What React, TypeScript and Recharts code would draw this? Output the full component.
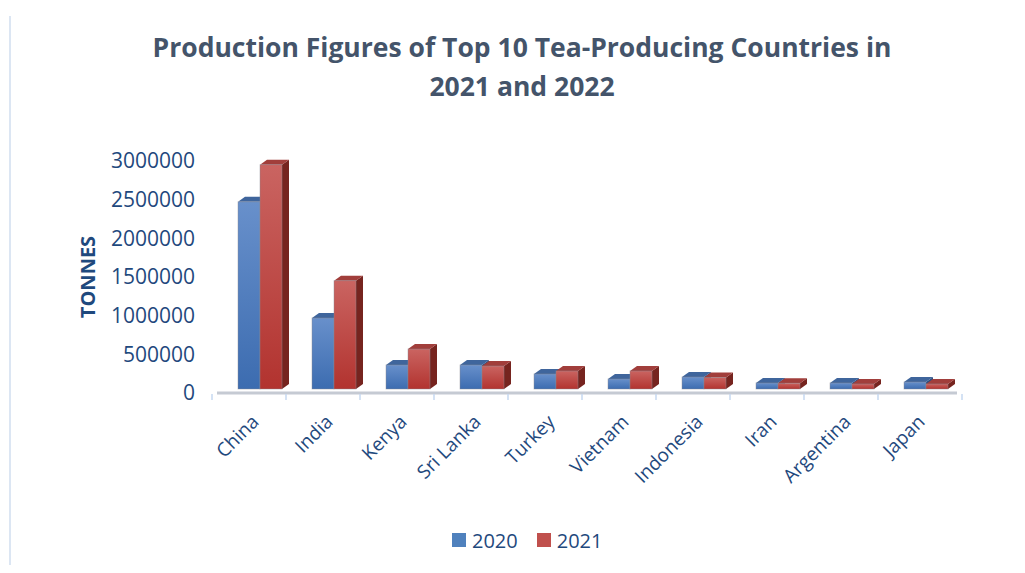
import React from "react";
import { BarChart, Bar, XAxis, YAxis } from "recharts";

// values (tonnes)
const categories = [
  "China",
  "India",
  "Kenya",
  "Sri Lanka",
  "Turkey",
  "Vietnam",
  "Indonesia",
  "Iran",
  "Argentina",
  "Japan",
];
const values2020 = [2420000, 918000, 310000, 310000, 194000, 129000, 155000, 78000, 78000, 90000];
const values2021 = [2900000, 1400000, 517000, 297000, 233000, 233000, 150000, 75000, 65000, 65000];
const yTicks = [0, 500000, 1000000, 1500000, 2000000, 2500000, 3000000];
const seriesNames = ["2020", "2021"];

const data = categories.map((name, i) => ({
  name,
  y2020: values2020[i],
  y2021: values2021[i],
}));

const W = 1009;
const H = 557;
const X_AXIS_H = 30;
const MARGIN = { top: 153, right: 60, bottom: 172 - X_AXIS_H, left: 109 };
const BAND = (W - MARGIN.left - MARGIN.right) / categories.length;
const FONT = "'Open Sans', sans-serif";
const LABEL = "#1f497d";

const BLUE = { front: "url(#gBlue)", top: "#3f659c", side: "#2d4f80", key: "#4f81bd" };
const RED = { front: "url(#gRed)", top: "#a13e3b", side: "#76241f", key: "#c0504d" };

// fake 3d box: front face + top + right side
const Box3D = (props: any) => {
  const { x, y, width, height, colors } = props;
  if (height == null || width == null) return null;
  const dx = 7;
  const dy = 5;
  const fx = x + 6;
  const fy = y - 4;
  return (
    <g>
      <polygon
        points={`${fx + width},${fy} ${fx + width + dx},${fy - dy} ${fx + width + dx},${fy + height - dy} ${fx + width},${fy + height}`}
        fill={colors.side}
      />
      <polygon
        points={`${fx},${fy} ${fx + width},${fy} ${fx + width + dx},${fy - dy} ${fx + dx},${fy - dy}`}
        fill={colors.top}
      />
      <rect
        x={fx}
        y={fy}
        width={width}
        height={height}
        fill={colors.front}
        stroke="rgba(140,140,150,0.55)"
        strokeWidth={0.8}
      />
    </g>
  );
};

const CategoryTick = (props: any) => {
  const { x, y, payload, index } = props;
  const lx = x + 6;
  const ly = y + 30;
  return (
    <g>
      <line x1={x - BAND / 2} x2={x - BAND / 2} y1={y + 1} y2={y + 7} stroke="#c6d9f1" strokeWidth={1.5} />
      {index === categories.length - 1 && (
        <line x1={x + BAND / 2} x2={x + BAND / 2} y1={y + 1} y2={y + 7} stroke="#c6d9f1" strokeWidth={1.5} />
      )}
      <text
        x={lx}
        y={ly}
        transform={`rotate(-45, ${lx}, ${ly})`}
        textAnchor="end"
        fill={LABEL}
        fontSize={19}
        fontFamily={FONT}
      >
        {payload.value}
      </text>
    </g>
  );
};

const YLabel = (props: any) => {
  const { viewBox } = props;
  const cx = viewBox.x - 30;
  const cy = viewBox.y + viewBox.height / 2;
  return (
    <text
      x={cx}
      y={cy}
      transform={`rotate(-90, ${cx}, ${cy})`}
      textAnchor="middle"
      dominantBaseline="central"
      fill={LABEL}
      fontSize={20}
      fontWeight="bold"
      fontFamily={FONT}
    >
      TONNES
    </text>
  );
};

const LegendItem = ({ color, label }: { color: string; label: string }) => (
  <div style={{ display: "flex", alignItems: "center", marginRight: 19 }}>
    <div style={{ width: 14, height: 14, background: color, marginRight: 6 }} />
    <span style={{ color: LABEL, fontSize: 20, fontFamily: FONT }}>{label}</span>
  </div>
);

const App: React.FC = () => {
  return (
    <div style={{ position: "relative", width: W, height: H, background: "#fff" }}>
      <div
        style={{
          position: "absolute",
          left: 1,
          top: 8,
          width: 2,
          height: 565,
          background: "#dce6f3",
        }}
      />
      <div
        style={{
          position: "absolute",
          left: 0,
          top: 20,
          width: 1028,
          textAlign: "center",
          fontFamily: FONT,
          fontWeight: "bold",
          fontSize: 26.5,
          lineHeight: "39px",
          color: "#44546a",
        }}
      >
        Production Figures of Top 10 Tea-Producing Countries in
        <br />
        2021 and 2022
      </div>
      <BarChart width={W} height={H} data={data} margin={MARGIN} barGap={0} barSize={22}>
        <defs>
          <linearGradient id="gBlue" x1="0" y1="0" x2="0" y2="1">
            <stop offset="0%" stopColor="#6890cb" />
            <stop offset="100%" stopColor="#3c6cb0" />
          </linearGradient>
          <linearGradient id="gRed" x1="0" y1="0" x2="0" y2="1">
            <stop offset="0%" stopColor="#ca6461" />
            <stop offset="100%" stopColor="#b2332f" />
          </linearGradient>
        </defs>
        <XAxis
          dataKey="name"
          height={X_AXIS_H}
          interval={0}
          tickSize={0}
          tickMargin={0}
          tickLine={false}
          axisLine={{ stroke: "#c5cad3", strokeWidth: 3 }}
          tick={<CategoryTick />}
        />
        <YAxis
          width={100}
          domain={[0, 3000000]}
          ticks={yTicks}
          axisLine={false}
          tickLine={false}
          tickSize={0}
          tickMargin={22}
          tick={{ fill: LABEL, fontSize: 21, fontFamily: FONT }}
          label={<YLabel />}
        />
        <Bar
          dataKey="y2020"
          name={seriesNames[0]}
          fill={BLUE.key}
          isAnimationActive={false}
          shape={(p: any) => <Box3D {...p} colors={BLUE} />}
        />
        <Bar
          dataKey="y2021"
          name={seriesNames[1]}
          fill={RED.key}
          isAnimationActive={false}
          shape={(p: any) => <Box3D {...p} colors={RED} />}
        />
      </BarChart>
      <div
        style={{
          position: "absolute",
          left: 444,
          top: 519,
          height: 26,
          display: "flex",
          alignItems: "center",
        }}
      >
        <LegendItem color={BLUE.key} label={seriesNames[0]} />
        <LegendItem color={RED.key} label={seriesNames[1]} />
      </div>
    </div>
  );
};

export default App;
